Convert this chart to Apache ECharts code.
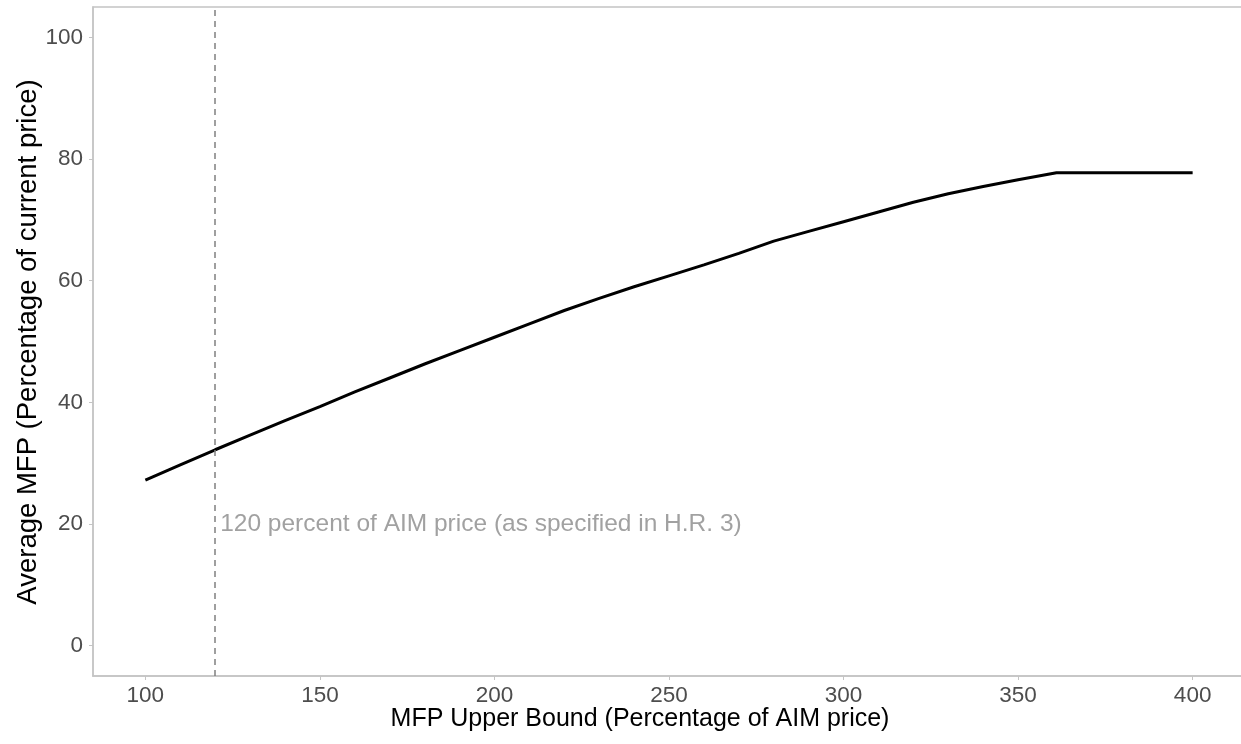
<!DOCTYPE html>
<html>
<head>
<meta charset="utf-8">
<script src="https://cdn.jsdelivr.net/npm/echarts@6/dist/echarts.min.js"></script>
<style>
html,body{margin:0;padding:0;background:#fff;overflow:hidden;}
#c{width:1241px;height:744px;}
</style>
</head>
<body>
<div id="c"></div>
<script>
const upperBound = [100,110,120,130,140,150,160,170,180,190,200,210,220,230,240,250,260,270,280,290,300,310,320,330,340,350,361,400];
const avgMFP =     [27.2,29.7,32.2,34.6,37.0,39.3,41.7,44.0,46.3,48.5,50.7,52.9,55.1,57.1,59.0,60.8,62.6,64.5,66.5,68.1,69.7,71.3,72.9,74.3,75.5,76.6,77.75,77.75];
const xTicks = [100,150,200,250,300,350,400];
const yTicks = [0,20,40,60,80,100];
const refLineX = 120;
const annotX = 120, annotY = 20;
const annotText = '120 percent of AIM price (as specified in H.R. 3)';
const xTitle = 'MFP Upper Bound (Percentage of AIM price)';
const yTitle = 'Average MFP (Percentage of current price)';

const chart = echarts.init(document.getElementById('c'), null, {renderer:'canvas'});
const FONT = '"Liberation Sans", Arial, sans-serif';
chart.setOption({
  animation:false,
  backgroundColor:'#ffffff',
  grid:{left:93,top:7,width:1152,height:669,outerBoundsMode:'none',containLabel:false,show:true,borderColor:'#c4c4c4',borderWidth:1.5,backgroundColor:'transparent'},
  xAxis:{
    type:'value',min:85,max:415,
    splitLine:{show:false},
    axisLine:{show:true,onZero:false,lineStyle:{color:'#c4c4c4',width:1.5}},
    axisTick:{show:true,length:4,customValues:xTicks,lineStyle:{color:'#c4c4c4',width:1}},
    axisLabel:{customValues:xTicks,color:'#4d4d4d',fontSize:22.5,fontFamily:FONT,margin:8}
  },
  yAxis:{
    type:'value',min:-5,max:105,
    splitLine:{show:false},
    axisLine:{show:true,onZero:false,lineStyle:{color:'#c4c4c4',width:1.5}},
    axisTick:{show:true,length:4,customValues:yTicks,lineStyle:{color:'#c4c4c4',width:1}},
    axisLabel:{customValues:yTicks,color:'#4d4d4d',fontSize:22.5,fontFamily:FONT,margin:10}
  },
  graphic:[
    {type:'text',x:640,y:719,style:{text:xTitle,fontSize:25,fontFamily:FONT,fill:'#000',align:'center',verticalAlign:'middle'}},
    {type:'text',rotation:Math.PI/2,x:28,y:342,style:{text:yTitle,fontSize:27.5,fontFamily:FONT,fill:'#000',align:'center',verticalAlign:'middle'}}
  ],
  series:[
    {
      type:'line',
      data:upperBound.map((x,i)=>[x,avgMFP[i]]),
      showSymbol:false,symbol:'none',
      lineStyle:{color:'#000',width:3},
      z:3,
      markLine:{
        silent:true,symbol:['none','none'],
        label:{show:false},
        lineStyle:{color:'#808080',type:[6,5],width:1.5},
        data:[{xAxis:refLineX}]
      }
    },
    {
      type:'scatter',
      data:[[annotX,annotY]],
      symbolSize:0,
      label:{show:true,position:'right',distance:5,formatter:annotText,color:'#8a8a8a',fontSize:24.5,fontFamily:FONT}
    }
  ]
});
</script>
</body>
</html>
